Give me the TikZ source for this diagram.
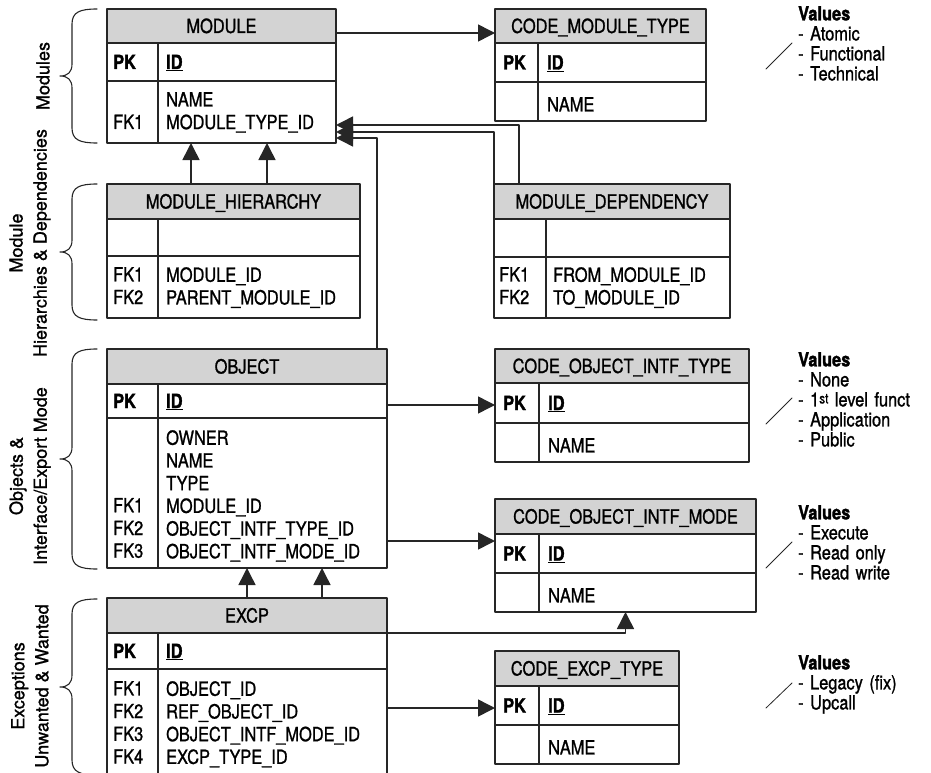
\documentclass[tikz,border=0pt]{standalone}
\usepackage{fontspec}
\setmainfont{TeX Gyre Heros}[FakeStretch=0.84,FakeBold=1.1]
\newfontfamily\keyfont{TeX Gyre Heros}[FakeStretch=0.84,BoldFeatures={FakeBold=1.6}]
\newfontfamily\sidefont{TeX Gyre Heros}[FakeBold=1.1]
\usetikzlibrary{positioning,arrows.meta}
\definecolor{ink}{RGB}{38,38,38}
\definecolor{hdrgray}{RGB}{211,211,211}
\newcommand\tblfont{\fontsize{19.5pt}{22.7pt}\selectfont}
\newcommand\notefont{\fontsize{19.5pt}{20pt}\selectfont}
\newcommand\kb[1]{{\keyfont\bfseries #1}}

\begin{document}
\begin{tikzpicture}[x=1pt,y=-1pt,line cap=round,line join=round,
  rule/.style={draw=ink,line width=1.3pt},
  cell/.style={rule,inner sep=0pt,outer sep=0pt},
  hdr/.style={cell,fill=hdrgray,anchor=north west,font=\tblfont,text height=14pt,text depth=0pt},
  pkt/.style={inner sep=0pt,font=\tblfont\keyfont\bfseries,text height=14pt,text depth=0pt},
  cols/.style={inner sep=0pt,align=left,font=\tblfont,execute at begin node={\rule{0pt}{14pt}}},
  note/.style={cols,text width=150pt,font=\notefont,anchor=north west},
  side/.style={inner sep=0pt,align=center,rotate=90,font=\sidefont\fontsize{18pt}{24pt}\selectfont},
  fk/.style={rule,line width=1.5pt,-{Triangle[length=17pt,width=17pt]}},
  brace/.style={draw=ink,line width=1.1pt}]
  \useasboundingbox (0,0) rectangle (931,773);

  % MODULE
  \node[hdr,minimum width=229pt,minimum height=34pt] (mod) at (107,9) {MODULE};
  \node[cell,minimum width=229pt,minimum height=38pt,below=0pt of mod] (mod-pk) {};
  \node[cell,minimum width=229pt,minimum height=62pt,below=0pt of mod-pk] (mod-b) {};
  \draw[rule] ([xshift=51pt]mod-pk.north west) -- ([xshift=51pt]mod-b.south west);
  \node[pkt,right=6pt of mod-pk.west] (mod-pk-k) {PK};
  \node[pkt,right=59pt of mod-pk.west] (mod-pk-f) {\underline{ID}};
  \node[cols,text width=40pt,below right=11pt and 6pt of mod-b.north west] (mod-b-k) {\\FK1};
  \node[cols,text width=220pt,below right=11pt and 59pt of mod-b.north west] (mod-b-f) {NAME\\MODULE\_TYPE\_ID};

  % CODE_MODULE_TYPE
  \node[hdr,minimum width=211pt,minimum height=34pt] (cmt) at (495,9) {CODE\_MODULE\_TYPE};
  \node[cell,minimum width=211pt,minimum height=39pt,below=0pt of cmt] (cmt-pk) {};
  \node[cell,minimum width=211pt,minimum height=39pt,below=0pt of cmt-pk] (cmt-b) {};
  \draw[rule] ([xshift=43pt]cmt-pk.north west) -- ([xshift=43pt]cmt-b.south west);
  \node[pkt,right=8pt of cmt-pk.west] (cmt-pk-k) {PK};
  \node[pkt,right=52pt of cmt-pk.west] (cmt-pk-f) {\underline{ID}};
  \node[cols,text width=150pt,below right=15pt and 52pt of cmt-b.north west] (cmt-b-f) {NAME};

  % MODULE_HIERARCHY
  \node[hdr,minimum width=253pt,minimum height=35pt] (mh) at (107,184) {MODULE\_HIERARCHY};
  \node[cell,minimum width=253pt,minimum height=37pt,below=0pt of mh] (mh-pk) {};
  \node[cell,minimum width=253pt,minimum height=62pt,below=0pt of mh-pk] (mh-b) {};
  \draw[rule] ([xshift=51pt]mh-pk.north west) -- ([xshift=51pt]mh-b.south west);
  \node[cols,text width=40pt,below right=11pt and 6pt of mh-b.north west] (mh-b-k) {FK1\\FK2};
  \node[cols,text width=220pt,below right=11pt and 59pt of mh-b.north west] (mh-b-f) {MODULE\_ID\\PARENT\_MODULE\_ID};

  % MODULE_DEPENDENCY
  \node[hdr,minimum width=236pt,minimum height=35pt] (md) at (494,184) {MODULE\_DEPENDENCY};
  \node[cell,minimum width=236pt,minimum height=38pt,below=0pt of md] (md-pk) {};
  \node[cell,minimum width=236pt,minimum height=61pt,below=0pt of md-pk] (md-b) {};
  \draw[rule] ([xshift=52pt]md-pk.north west) -- ([xshift=52pt]md-b.south west);
  \node[cols,text width=40pt,below right=10pt and 5pt of md-b.north west] (md-b-k) {FK1\\FK2};
  \node[cols,text width=200pt,below right=10pt and 59pt of md-b.north west] (md-b-f) {FROM\_MODULE\_ID\\TO\_MODULE\_ID};

  % OBJECT
  \node[hdr,minimum width=280pt,minimum height=35pt] (obj) at (107,349) {OBJECT};
  \node[cell,minimum width=280pt,minimum height=34pt,below=0pt of obj] (obj-pk) {};
  \node[cell,minimum width=280pt,minimum height=150pt,below=0pt of obj-pk] (obj-b) {};
  \draw[rule] ([xshift=51pt]obj-pk.north west) -- ([xshift=51pt]obj-b.south west);
  \node[pkt,right=6pt of obj-pk.west] (obj-pk-k) {PK};
  \node[pkt,right=59pt of obj-pk.west] (obj-pk-f) {\underline{ID}};
  \node[cols,text width=40pt,below right=12pt and 6pt of obj-b.north west] (obj-b-k) {~\\~\\~\\FK1\\FK2\\FK3};
  \node[cols,text width=220pt,below right=12pt and 59pt of obj-b.north west] (obj-b-f) {OWNER\\NAME\\TYPE\\MODULE\_ID\\OBJECT\_INTF\_TYPE\_ID\\OBJECT\_INTF\_MODE\_ID};

  % CODE_OBJECT_INTF_TYPE
  \node[hdr,minimum width=254pt,minimum height=34pt] (coit) at (495,349) {CODE\_OBJECT\_INTF\_TYPE};
  \node[cell,minimum width=254pt,minimum height=40pt,below=0pt of coit] (coit-pk) {};
  \node[cell,minimum width=254pt,minimum height=39pt,below=0pt of coit-pk] (coit-b) {};
  \draw[rule] ([xshift=44pt]coit-pk.north west) -- ([xshift=44pt]coit-b.south west);
  \node[pkt,right=8pt of coit-pk.west] (coit-pk-k) {PK};
  \node[pkt,right=53pt of coit-pk.west] (coit-pk-f) {\underline{ID}};
  \node[cols,text width=150pt,below right=15pt and 53pt of coit-b.north west] (coit-b-f) {NAME};

  % CODE_OBJECT_INTF_MODE
  \node[hdr,minimum width=261pt,minimum height=35pt] (coim) at (495,499) {CODE\_OBJECT\_INTF\_MODE};
  \node[cell,minimum width=261pt,minimum height=39pt,below=0pt of coim] (coim-pk) {};
  \node[cell,minimum width=261pt,minimum height=39pt,below=0pt of coim-pk] (coim-b) {};
  \draw[rule] ([xshift=44pt]coim-pk.north west) -- ([xshift=44pt]coim-b.south west);
  \node[pkt,right=8pt of coim-pk.west] (coim-pk-k) {PK};
  \node[pkt,right=53pt of coim-pk.west] (coim-pk-f) {\underline{ID}};
  \node[cols,text width=150pt,below right=15pt and 53pt of coim-b.north west] (coim-b-f) {NAME};

  % EXCP
  \node[hdr,minimum width=280pt,minimum height=35pt] (excp) at (107,598) {EXCP};
  \node[cell,minimum width=280pt,minimum height=36pt,below=0pt of excp] (excp-pk) {};
  \node[cell,minimum width=280pt,minimum height=130pt,below=0pt of excp-pk] (excp-b) {};
  \draw[rule] ([xshift=51pt]excp-pk.north west) -- ([xshift=51pt]excp-b.south west);
  \node[pkt,right=6pt of excp-pk.west] (excp-pk-k) {PK};
  \node[pkt,right=59pt of excp-pk.west] (excp-pk-f) {\underline{ID}};
  \node[cols,text width=40pt,below right=12pt and 6pt of excp-b.north west] (excp-b-k) {FK1\\FK2\\FK3\\FK4};
  \node[cols,text width=220pt,below right=12pt and 59pt of excp-b.north west] (excp-b-f) {OBJECT\_ID\\REF\_OBJECT\_ID\\OBJECT\_INTF\_MODE\_ID\\EXCP\_TYPE\_ID};

  % CODE_EXCP_TYPE
  \node[hdr,minimum width=184pt,minimum height=35pt] (cet) at (495,651) {CODE\_EXCP\_TYPE};
  \node[cell,minimum width=184pt,minimum height=39pt,below=0pt of cet] (cet-pk) {};
  \node[cell,minimum width=184pt,minimum height=39pt,below=0pt of cet-pk] (cet-b) {};
  \draw[rule] ([xshift=44pt]cet-pk.north west) -- ([xshift=44pt]cet-b.south west);
  \node[pkt,right=8pt of cet-pk.west] (cet-pk-k) {PK};
  \node[pkt,right=53pt of cet-pk.west] (cet-pk-f) {\underline{ID}};
  \node[cols,text width=120pt,below right=15pt and 53pt of cet-b.north west] (cet-b-f) {NAME};

  % references
  \draw[fk] ([yshift=-7pt]mod.east) -- ([yshift=-7pt]mod.east -| cmt.west);
  \draw[fk] ([xshift=84pt]mh.north west) -- ([xshift=84pt]mh.north west |- mod-b.south);
  \draw[fk] ([xshift=160pt]mh.north west) -- ([xshift=160pt]mh.north west |- mod-b.south);
  \draw[fk] ([xshift=25pt]md.north west) |- ([yshift=-13pt]mod-b.east);
  \draw[fk] (md.north west) |- ([yshift=-20pt]mod-b.east);
  \draw[fk] ([xshift=270pt]obj.north west) |- ([yshift=-26pt]mod-b.east);
  \draw[fk] ([yshift=-4pt]obj-pk.east) -- ([yshift=-4pt]obj-pk.east -| coit-pk.west);
  \draw[fk] ([yshift=-48pt]obj-b.east) -- ([yshift=-48pt]obj-b.east -| coim-pk.west);
  \draw[fk] ([xshift=140pt]excp.north west) -- ([xshift=140pt]excp.north west |- obj-b.south);
  \draw[fk] ([xshift=215pt]excp.north west) -- ([xshift=215pt]excp.north west |- obj-b.south);
  \draw[fk] (excp.south east) -| (coim-b.south);
  \draw[fk] ([yshift=-39pt]excp-b.north east) -- ([yshift=-39pt]excp-b.north east -| cet-pk.west);

  % value notes
  \node[note] (val-cmt) at (798,6) {\kb{Values}\\- Atomic\\- Functional\\- Technical};
  \draw[rule,line width=0.8pt] (766,69) -- (792,43);
  \node[note] (val-coit) at (798,352) {\kb{Values}\\- None\\- 1\raisebox{3pt}{\fontsize{14pt}{14pt}\selectfont st} level funct\\- Application\\- Public};
  \draw[rule,line width=0.8pt] (766,424) -- (792,398);
  \node[note] (val-coim) at (798,505) {\kb{Values}\\- Execute\\- Read only\\- Read write};
  \draw[rule,line width=0.8pt] (766,568) -- (792,542);
  \node[note] (val-cet) at (798,655) {\kb{Values}\\- Legacy (fix)\\- Upcall};
  \draw[rule,line width=0.8pt] (766,708) -- (792,683);

  % groups
  \draw[brace] (97,9) .. controls (80,9) and (72,12) .. (72,24) -- (72,64) .. controls (72,72) and (68,76) .. (60,76) .. controls (68,76) and (72,80) .. (72,88) -- (72,128) .. controls (72,140) and (80,143) .. (97,143);
  \draw[brace] (97,184) .. controls (80,184) and (72,187) .. (72,199) -- (72,240) .. controls (72,248) and (68,252) .. (60,252) .. controls (68,252) and (72,256) .. (72,264) -- (72,305) .. controls (72,317) and (80,320) .. (97,320);
  \draw[brace] (97,349) .. controls (80,349) and (72,352) .. (72,364) -- (72,447) .. controls (72,455) and (68,459) .. (60,459) .. controls (68,459) and (72,463) .. (72,471) -- (72,554) .. controls (72,566) and (80,569) .. (97,569);
  \draw[brace] (97,599) .. controls (80,599) and (72,602) .. (72,614) -- (72,675) .. controls (72,683) and (68,687) .. (60,687) .. controls (68,687) and (72,691) .. (72,699) -- (72,760) .. controls (72,772) and (80,775) .. (97,775);
  \node[side] (grp-mod) at (43,76) {Modules};
  \node[side] (grp-dep) at (30,243) {Module\\Hierarchies \& Dependencies};
  \node[side] (grp-obj) at (30,476) {Objects \&\\Interface/Export Mode};
  \node[side] (grp-excp) at (30,686) {Exceptions\\Unwanted \& Wanted};
\end{tikzpicture}
\end{document}
